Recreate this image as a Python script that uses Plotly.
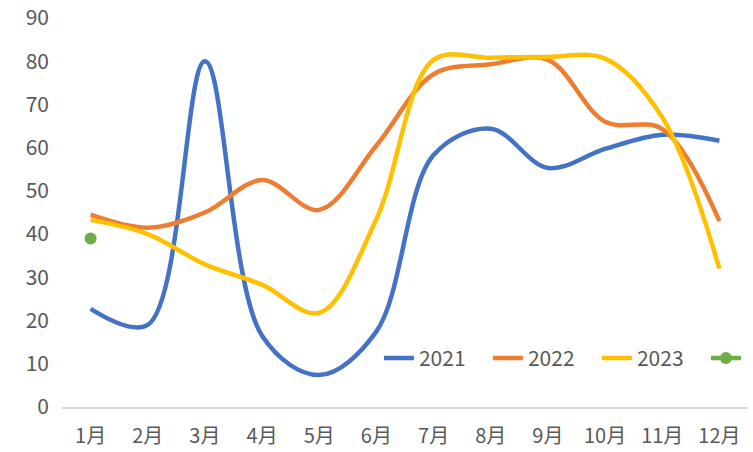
import plotly.graph_objects as go

months = ["1月", "2月", "3月", "4月", "5月", "6月", "7月", "8月", "9月", "10月", "11月", "12月"]
s2021 = [22.7, 19.0, 80.0, 16.5, 7.4, 17.5, 58.3, 64.4, 55.3, 59.7, 63.0, 61.6]
s2022 = [44.5, 41.5, 45.0, 52.5, 45.6, 60.5, 77.0, 79.3, 80.3, 66.0, 64.3, 43.0]
s2023 = [43.3, 40.0, 33.0, 28.3, 21.8, 43.5, 80.3, 80.8, 81.0, 80.6, 67.0, 32.0]
s2024 = [39.0]

FONT = "Noto Sans CJK SC"
GREY = "#595959"

fig = go.Figure()
for name, vals, col in [("2021", s2021, "#4472C4"), ("2022", s2022, "#ED7D31"), ("2023", s2023, "#FFC000")]:
    fig.add_trace(go.Scatter(x=months, y=vals, name=name, mode="lines",
                             line=dict(color=col, width=4.5, shape="spline", smoothing=1.0)))
fig.add_trace(go.Scatter(x=months[:1], y=s2024, name="", mode="lines+markers",
                         line=dict(color="#70AD47", width=4.5),
                         marker=dict(color="#70AD47", size=12)))

fig.update_layout(
    width=753, height=452,
    margin=dict(l=62, r=5, t=18, b=45, autoexpand=False),
    paper_bgcolor="white", plot_bgcolor="white",
    font=dict(family=FONT, color=GREY, size=20),
    showlegend=True,
    legend=dict(orientation="h", x=0.462, xanchor="left", y=0.125, yanchor="middle",
                bgcolor="rgba(0,0,0,0)", font=dict(size=21, color=GREY),
                itemwidth=30, entrywidth=64, tracegroupgap=0),
    xaxis=dict(type="category", range=[-0.5, 11.5], showgrid=False, zeroline=False,
               showline=True, linecolor="#D9D9D9", linewidth=1.5, ticks="",
               tickangle=0,
               tickfont=dict(size=20, color=GREY), ticklabelstandoff=10),
    yaxis=dict(range=[0, 90], dtick=10, showgrid=False, zeroline=False, showline=False,
               tickfont=dict(size=21, color=GREY), ticklabelstandoff=12),
)
fig.write_html("out.html")
